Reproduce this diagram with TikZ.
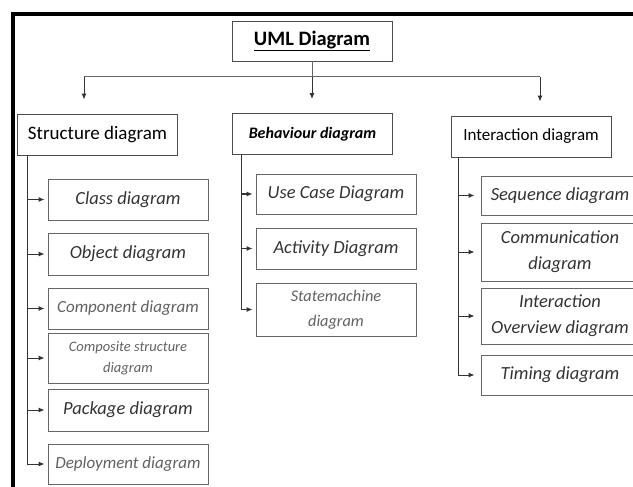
\documentclass[tikz,border=0pt]{standalone}
\usepackage{fontspec}
\setmainfont{Carlito}
\usetikzlibrary{arrows.meta}
\tikzset{
  box/.style={draw=black!60, line width=0.9pt, minimum width=160pt, minimum height=41pt, inner sep=2pt, align=center},
  topbox/.style={box, draw=black!70, font=\fontsize{19}{23}\selectfont},
  kid/.style={box, text=black!80, font=\fontsize{18.5}{26}\selectfont\itshape},
  faint/.style={text=black!62},
  link/.style={draw=black!60, line width=1pt},
  tip/.style={-{Latex[length=6pt,width=5pt]}, black!80},
}
\begin{document}
\begin{tikzpicture}[x=1pt,y=-1pt]
  \useasboundingbox (0,0) rectangle (633,487);
  \clip (0,0) rectangle (633,487);
  % outer frame, only its top and left edges are inside
  \draw[line width=3.5pt] (13,500) -- (13,14) -- (650,14);

  % root and the three families
  \node[topbox, minimum height=40pt] (uml) at (312,41)
    {\fontsize{20.5}{24}\selectfont\bfseries\underline{UML Diagram}};
  \node[topbox] (sd) at (97.5,134.5) {Structure diagram};
  \node[topbox, font=\fontsize{16}{20}\selectfont\bfseries\itshape] (bd) at (312.5,134) {Behaviour diagram};
  \node[topbox, font=\fontsize{17}{20}\selectfont] (id) at (531,136.5) {Interaction diagram};

  % bus under the root
  \coordinate (busl) at (84,77);
  \coordinate (busr) at (540,77);
  \draw[link] (uml.south) -- (uml.south |- busl);
  \draw[link] (busl) -- (busr);
  \draw[link,tip,shorten >=14pt] (busl) -- (busl |- sd.north);
  \draw[link,tip,shorten >=14pt] (uml.south |- busl) -- (uml.south |- bd.north);
  \draw[link,tip,shorten >=14pt] (busr) -- (busr |- id.north);

  % structure diagrams
  \node[kid] (cls) at (128,199.5) {Class diagram};
  \node[kid, minimum height=42pt] (obj) at (128,254) {Object diagram};
  \node[kid, faint, font=\fontsize{17}{22}\selectfont\itshape] (cmp) at (128,308.5) {Component diagram};
  \node[kid, faint, minimum height=50pt, font=\fontsize{14.5}{21}\selectfont\itshape] (cst) at (128,358)
    {Composite structure\\diagram};
  \node[kid, minimum height=42pt] (pkg) at (128,410) {Package diagram};
  \node[kid, faint, minimum height=40pt, font=\fontsize{17}{22}\selectfont\itshape] (dep) at (128,464) {Deployment diagram};

  \coordinate (trs) at ([xshift=10pt]sd.south west);
  \draw[link,tip,shorten >=3pt] (trs) |- (dep.west);
  \foreach \k in {cls,obj,cmp,cst,pkg}
    \draw[link,tip,shorten >=3pt] (trs |- \k.west) -- (\k.west);

  % behaviour diagrams
  \node[kid, minimum height=40pt] (uc) at (336,194) {Use Case Diagram};
  \node[kid] (act) at (336,248.5) {Activity Diagram};
  \node[kid, faint, minimum height=53pt, font=\fontsize{16.3}{25}\selectfont\itshape] (stm) at (336,309.5)
    {Statemachine\\diagram};

  \coordinate (trb) at ([xshift=9pt]bd.south west);
  \draw[link,tip,shorten >=3pt] (trb) |- (stm.west);
  \foreach \k in {uc,act}
    \draw[link,tip,shorten >=3pt] (trb |- \k.west) -- (\k.west);

  % interaction diagrams
  \node[kid, minimum width=158pt, minimum height=39pt] (seq) at (560,195.5) {Sequence diagram};
  \node[kid, minimum width=158pt, minimum height=58pt] (com) at (560,252) {Communication\\diagram};
  \node[kid, minimum width=158pt, minimum height=56pt] (iov) at (560,316) {Interaction\\Overview diagram};
  \node[kid, minimum width=158pt, minimum height=40pt] (tim) at (560,375) {Timing diagram};

  \coordinate (tri) at ([xshift=8pt]id.south west);
  \draw[link,tip,shorten >=6pt] (tri) |- (tim.west);
  \foreach \k in {seq,com,iov}
    \draw[link,tip,shorten >=6pt] (tri |- \k.west) -- (\k.west);
\end{tikzpicture}
\end{document}
